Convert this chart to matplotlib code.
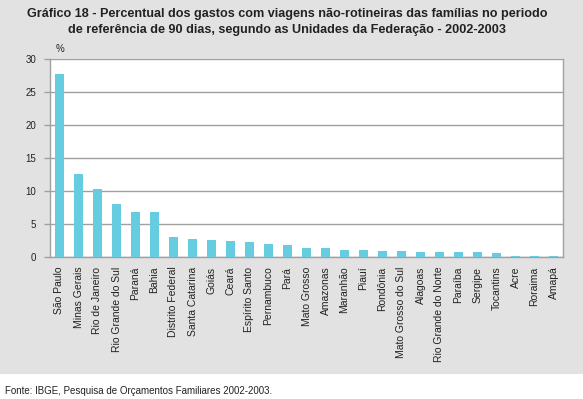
import matplotlib
matplotlib.use("Agg")
import matplotlib.pyplot as plt
from matplotlib.patches import Rectangle

plt.rcParams['font.family'] = ['Liberation Sans', 'DejaVu Sans']

states = ["São Paulo", "Minas Gerais", "Rio de Janeiro", "Rio Grande do Sul", "Paraná",
          "Bahia", "Distrito Federal", "Santa Catarina", "Goiás", "Ceará",
          "Espírito Santo", "Pernambuco", "Pará", "Mato Grosso", "Amazonas",
          "Maranhão", "Piauí", "Rondônia", "Mato Grosso do Sul", "Alagoas",
          "Rio Grande do Norte", "Paraíba", "Sergipe", "Tocantins", "Acre",
          "Roraima", "Amapá"]
values = [27.7, 12.6, 10.3, 8.0, 6.8, 6.8, 3.0, 2.7, 2.6, 2.4,
          2.3, 2.0, 1.8, 1.4, 1.4, 1.1, 1.1, 0.95, 0.95, 0.8,
          0.8, 0.8, 0.8, 0.6, 0.2, 0.2, 0.2]
yticks = [0, 5, 10, 15, 20, 25, 30]

W, H = 583, 399
fig = plt.figure(figsize=(W / 100, H / 100), dpi=100)
fig.patch.set_facecolor("white")
fig.add_artist(Rectangle((0, (H - 374) / H), 1, 374 / H, transform=fig.transFigure,
                         facecolor="#e2e2e2", edgecolor="none", zorder=0))

ax = fig.add_axes([50 / W, (H - 257) / H, 513 / W, 198 / H])
ax.set_facecolor("white")
x = list(range(len(states)))
ax.bar(x, values, width=0.47, color="#66cce0", zorder=3)
ax.set_xlim(-0.5, len(states) - 0.5)
ax.set_ylim(0, 30)
ax.set_yticks(yticks)
ax.set_yticklabels([str(t) for t in yticks], fontsize=7, color="#222222")
ax.yaxis.grid(True, color="#a0a0a0", linewidth=1.0, zorder=1)
ax.set_xticks(x)
ax.set_xticklabels(states, rotation=90, fontsize=7.5, color="#222222", va="top", ha="center")
ax.tick_params(axis="x", length=0, pad=7)
ax.tick_params(axis="y", length=4, color="#a0a0a0", pad=6, width=1)
for s in ["left", "bottom", "right"]:
    ax.spines[s].set_color("#a0a0a0")
    ax.spines[s].set_linewidth(1.0)
ax.spines["top"].set_visible(False)

ax.text(0.0, 30.8, "%", fontsize=7, color="#222222", ha="center", va="bottom")

fig.text(0.492, 1 - 22 / H, "Gráfico 18 - Percentual dos gastos com viagens não-rotineiras das famílias no periodo\n"
         "de referência de 90 dias, segundo as Unidades da Federação - 2002-2003",
         ha="center", va="center", fontsize=9.1, fontweight="bold", color="#222222",
         linespacing=1.35)
fig.text(5 / W, 1 - 391 / H, "Fonte: IBGE, Pesquisa de Orçamentos Familiares 2002-2003.",
         ha="left", va="center", fontsize=7, color="#222222")

fig.savefig("out.png", dpi=100, facecolor=fig.get_facecolor())
